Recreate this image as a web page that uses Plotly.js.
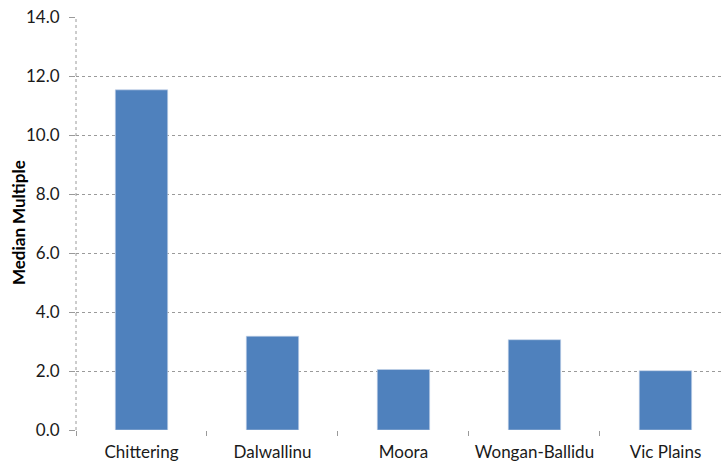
<!DOCTYPE html>
<html>
<head>
<meta charset="utf-8">
<script src="https://cdn.plot.ly/plotly-3.0.1.min.js"></script>
<style>
  html, body { margin: 0; padding: 0; background: #fff; }
  #chart { width: 721px; height: 464px; }
</style>
</head>
<body>
<div id="chart"></div>
<script>
// Median multiple by shire
const shires = ["Chittering", "Dalwallinu", "Moora", "Wongan-Ballidu", "Vic Plains"];
const medianMultiple = [11.53, 3.18, 2.05, 3.06, 2.01];
const yTitle = "Median Multiple";

const fontFamily = "Lato, 'Open Sans', 'Liberation Sans', sans-serif";
const gridGrey = "#9a9a9a";
const textColor = "#1a1a1a";

const trace = {
  type: "bar",
  x: shires,
  y: medianMultiple,
  width: 0.4,
  marker: { color: "#4F81BD", line: { color: "#c6d4ea", width: 0.6 } },
  hoverinfo: "x+y"
};

const layout = {
  width: 721,
  height: 464,
  margin: { l: 76, r: 0, t: 17, b: 34 },
  paper_bgcolor: "#ffffff",
  plot_bgcolor: "#ffffff",
  showlegend: false,
  font: { family: fontFamily, size: 17, color: textColor },
  xaxis: {
    type: "category",
    range: [-0.5, 4.424],
    tickson: "boundaries",
    ticks: "outside",
    ticklen: 5,
    tickcolor: gridGrey,
    ticklabelstandoff: 10,
    showgrid: false,
    showline: false,
    zeroline: false,
    tickfont: { family: fontFamily, size: 17, color: textColor }
  },
  yaxis: {
    range: [0, 14],
    dtick: 2,
    tick0: 0,
    tickformat: ".1f",
    ticks: "outside",
    ticklen: 6,
    tickcolor: gridGrey,
    ticklabelstandoff: 6,
    showgrid: true,
    gridcolor: gridGrey,
    griddash: "dot",
    gridwidth: 1,
    zeroline: false,
    showline: false,
    tickfont: { family: fontFamily, size: 17, color: textColor }
  },
  annotations: [
    {
      text: yTitle,
      xref: "paper", yref: "paper",
      x: (18 - 76) / 645, y: 0.501,
      xanchor: "center", yanchor: "middle",
      textangle: -90,
      showarrow: false,
      font: { family: fontFamily, size: 17, color: "#000000", weight: "bold" }
    }
  ],
  shapes: [
    {
      type: "line", xref: "paper", yref: "paper",
      x0: 0, x1: 0, y0: 0, y1: 1,
      line: { color: gridGrey, width: 1, dash: "dot" }
    }
  ]
};

Plotly.newPlot("chart", [trace], layout, { displayModeBar: false, staticPlot: true });
</script>
</body>
</html>
